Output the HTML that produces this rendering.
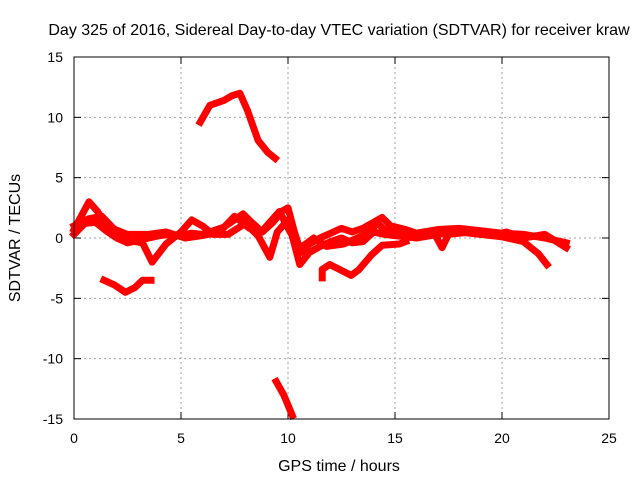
<!DOCTYPE html>
<html><head><meta charset="utf-8"><style>
body{margin:0;background:#fff}
svg{display:block;font-family:"Liberation Sans",sans-serif}
</style></head><body>
<svg id="chart" width="640" height="480">
<text x="339" y="35" font-size="16" text-anchor="middle">Day 325 of 2016, Sidereal Day-to-day VTEC variation (SDTVAR) for receiver kraw</text>
<text x="339" y="471" font-size="16" text-anchor="middle">GPS time / hours</text>
<text transform="translate(20,238) rotate(-90)" font-size="16" text-anchor="middle">SDTVAR / TECUs</text>
<g id="grid"></g>
<g id="ticks"></g>
<g id="marks"></g>
<rect x="74" y="57" width="535" height="362" fill="none" stroke="#000" stroke-width="1"/>
</svg>
<script>
const xTicks=[0,5,10,15,20,25];
const yTicks=[15,10,5,0,-5,-10,-15];
const arcH=[5.9,6.35,7.0,7.4,7.75,8.1,8.6,9.05,9.4];
const arcV=[9.6,11,11.4,11.8,12,10.6,8.1,7.1,6.6];
const lowH=[9.45,9.8,10.2];
const lowV=[-11.9,-13,-14.7];
const leftH=[1.4,1.9,2.4,2.85,3.2,3.6];
const leftV=[-3.5,-3.9,-4.5,-4.1,-3.5,-3.5];
const midH=[11.6,11.6,11.95,12.4,12.95,13.3,13.9,14.4,15.2,15.5];
const midV=[-3.3,-2.6,-2.2,-2.6,-3.1,-2.65,-1.4,-0.6,-0.5,-0.3];
const s1H=[0,0.5,1,1.5,2,2.5,3,3.5,4,4.5,5,5.5,6,6.5,7,7.5,7.9,8.3,8.8,9.3,9.7,10,10.3,10.6,11,11.5,12,12.5,13,13.5,14,14.4,14.8,15.5,16,17,18,19,20,21,22,22.5,23];
const s1V=[0.3,1.2,1.3,0.6,0,-0.4,-0.2,0,0.2,0.3,0.2,0.4,0.3,0.6,0.9,1.5,2,1.3,0.5,1.3,2.2,2.5,0.5,-1.2,-0.5,0,0.4,0.8,0.5,0.8,1.3,1.7,1,0.7,0.4,0.7,0.8,0.6,0.4,0.3,0,-0.2,-0.4];
const s2H=[0,0.7,1.3,2,2.5,3.2,3.65,4.3,5,5.5,6,6.5,7.2,8,8.6,9.15,9.5,10,10.55,11,11.5,12,12.5,13,13.5,14,14.5,15,16,17,18,19,20,21,21.7,22.1];
const s2V=[1,1.6,1.8,0.5,-0.2,-0.4,-2,-0.5,0.5,1.5,1,0.3,0.3,1.2,0.2,-1.6,0.5,1.5,-2.2,-1.2,-0.7,-0.3,0,-0.4,-0.3,0.5,0.3,0.2,0,0.3,0.5,0.3,0.1,-0.3,-1.3,-2.2];
const s3H=[0,0.7,1.1,1.5,2.5,3.5,4.3,5.2,6,6.8,7.5,8.2,8.7,9.6,10.1,10.6,11.2,11.8,12.6,13.5,14.2,14.5,15,16,16.8,17.2,17.5,18.5,19.5,20.2,21,22,23];
const s3V=[0.7,3,2.2,1,0.3,0.3,0.5,0,0.2,0.5,1.8,0.8,0.4,2.2,0.5,-0.8,0,-0.7,-0.5,0.2,1.2,0.7,0.5,0.2,0.5,-0.8,0.3,0.5,0.2,0.5,0,0.3,-0.8];
const X=h=>74+h*21.4, Y=v=>238-v*12.067;
const NS="http://www.w3.org/2000/svg";
const grid=document.getElementById('grid'),ticks=document.getElementById('ticks'),marks=document.getElementById('marks');
function mk(t,a,p){const e=document.createElementNS(NS,t);for(const k in a)e.setAttribute(k,a[k]);p.appendChild(e);return e;}
xTicks.forEach(t=>{
 const x=X(t);
 if(t>0&&t<25){const g=mk('line',{x1:x,y1:57,x2:x,y2:419,stroke:'#a0a0a0','stroke-dasharray':'2,3'},grid);
 
 }
 mk('line',{x1:x,y1:419,x2:x,y2:412,stroke:'#000'},ticks);
 mk('line',{x1:x,y1:57,x2:x,y2:64,stroke:'#000'},ticks);
 const l=mk('text',{x:x,y:443,'font-size':14,'text-anchor':'middle'},ticks);l.textContent=t;
 
 
});
yTicks.forEach(t=>{
 const y=Y(t);
 if(t>-15&&t<15){const g=mk('line',{x1:74,y1:y,x2:609,y2:y,stroke:'#a0a0a0','stroke-dasharray':'2,3'},grid);
 
 }
 mk('line',{x1:74,y1:y,x2:81,y2:y,stroke:'#000'},ticks);
 mk('line',{x1:609,y1:y,x2:602,y2:y,stroke:'#000'},ticks);
 const l=mk('text',{x:63,y:y+5,'font-size':14,'text-anchor':'end'},ticks);l.textContent=t;
 
 
});
const series=[[arcH,arcV,'arc-series'],[lowH,lowV,'low-series'],[leftH,leftV,'left-series'],[midH,midV,'mid-series'],[s1H,s1V,'main-series-1'],[s2H,s2V,'main-series-2'],[s3H,s3V,'main-series-3']];
series.forEach(([hs,vs,name])=>{
 const pts=hs.map((h,i)=>X(h)+','+Y(vs[i])).join(' ');
 const p=mk('polyline',{points:pts,fill:'none',stroke:'#ff0000','stroke-width':7,'stroke-linejoin':'round','stroke-linecap':'square'},marks);
 
 
});
</script>
</body></html>
